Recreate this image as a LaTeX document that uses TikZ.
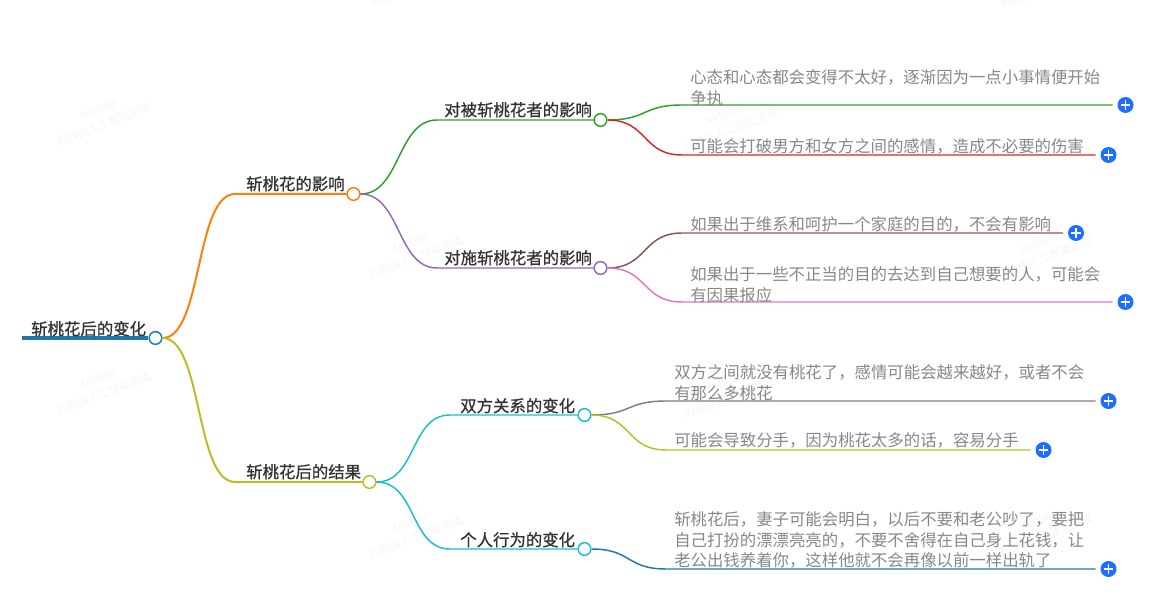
\documentclass[tikz,border=0pt]{standalone}
\usepackage{fontspec}
\setmainfont{Noto Sans CJK SC}
\newfontfamily\topicfont[FakeBold=0.8]{Noto Sans CJK SC}
\usepackage{tikz}
\usetikzlibrary{positioning}
\definecolor{cblue}{HTML}{1F77B4}
\definecolor{corange}{HTML}{FF7F0E}
\definecolor{cgreen}{HTML}{2CA02C}
\definecolor{cred}{HTML}{D62728}
\definecolor{cpurple}{HTML}{9467BD}
\definecolor{cbrown}{HTML}{8C564B}
\definecolor{cpink}{HTML}{E377C2}
\definecolor{cgray}{HTML}{7F7F7F}
\definecolor{colive}{HTML}{BCBD22}
\definecolor{ccyan}{HTML}{17BECF}
\definecolor{cplus}{HTML}{1E6FFF}
\tikzset{
  knot/.style={circle,draw=#1,fill=white,line width=1.1pt,minimum size=9.5pt,inner sep=0pt},
  plusbtn/.style={circle,fill=cplus,minimum size=12pt,inner sep=0pt,
    path picture={\draw[white,line width=1.1pt]
      ([xshift=-3.4pt]path picture bounding box.center) -- ([xshift=3.4pt]path picture bounding box.center)
      ([yshift=-3.4pt]path picture bounding box.center) -- ([yshift=3.4pt]path picture bounding box.center);}},
  topic/.style={anchor=base west,inner sep=0pt,text=black!80,font=\fontsize{12.3pt}{15pt}\topicfont},
  leaf/.style={anchor=south west,inner sep=0pt,align=left,text=black!47,font=\fontsize{12.3pt}{15.6pt}\selectfont},
  wire/.style={#1,line width=1.1pt,line cap=round},
  tail/.style={#1,line width=1.1pt,shorten >=3.4pt},
  stamp/.style={rotate=21,text=black!4,inner sep=0pt,align=center,font=\fontsize{8.3pt}{12pt}\selectfont}
}
\begin{document}
\begin{tikzpicture}[x=0.75pt,y=0.75pt,yscale=-1,xscale=1]
        \useasboundingbox (0,0) rectangle (1156,609);

        % Watermarks
        \node [stamp] (mark1) at (101,117) {4ebb8e\\内容由人工智能生成};
        \node [stamp] (mark2) at (101,386) {4ebb8e\\内容由人工智能生成};
        \node [stamp] (mark3) at (413,250) {4ebb8e\\内容由人工智能生成};
        \node [stamp] (mark4) at (413,530) {4ebb8e\\内容由人工智能生成};
        \node [stamp] (mark5) at (728,122) {4ebb8e\\内容由人工智能生成};
        \node [stamp] (mark6) at (728,390) {4ebb8e\\内容由人工智能生成};
        \node [stamp] (mark7) at (1042,250) {4ebb8e\\内容由人工智能生成};
        \node [stamp] (mark8) at (1042,528) {4ebb8e\\内容由人工智能生成};
        \node [stamp] (mark9) at (415,-22) {4ebb8e\\内容由人工智能生成};
        \node [stamp] (mark10) at (1044,-20) {4ebb8e\\内容由人工智能生成};

        % Knots
        \node [knot=cblue] (root) at (155.5,338) {};
        \node [knot=corange] (effect) at (353.5,194) {};
        \node [knot=colive] (result) at (369.5,482) {};
        \node [knot=cgreen] (victim) at (600.5,120) {};
        \node [knot=cpurple] (doer) at (600.5,268) {};
        \node [knot=ccyan] (couple) at (584.5,415) {};
        \node [knot=ccyan] (person) at (584.5,549) {};

        % Plus buttons
        \node [plusbtn] (plusa) at (1125.5,105) {};
        \node [plusbtn] (plusb) at (1108.5,155) {};
        \node [plusbtn] (plusc) at (1076,233) {};
        \node [plusbtn] (plusd) at (1125.5,302) {};
        \node [plusbtn] (pluse) at (1108.5,401) {};
        \node [plusbtn] (plusf) at (1043.5,450) {};
        \node [plusbtn] (plusg) at (1108.5,569) {};

        % Bends
        \coordinate (bendeffect) at (235,194);
        \coordinate (bendresult) at (235,482);
        \coordinate (bendvictim) at (437,120);
        \coordinate (benddoer) at (437,268);
        \coordinate (bendcouple) at (450,415);
        \coordinate (bendperson) at (450,549);
        \coordinate (benda) at (682,105);
        \coordinate (bendb) at (682,155);
        \coordinate (bendc) at (682,233);
        \coordinate (bendd) at (682,302);
        \coordinate (bende) at (666,401);
        \coordinate (bendf) at (666,450);
        \coordinate (bendg) at (666,569);
        \coordinate (rootstart) at (22,338);

        % Root line
        \draw [cblue,line width=3pt] (rootstart) -- (root.west);

        % First level
        \draw [wire=corange,line width=1.5pt] (root.east) .. controls +(40,0) and +(-40,0) .. (bendeffect) -- (effect.west);
        \draw [wire=colive,line width=1.5pt] (root.east) .. controls +(40,0) and +(-40,0) .. (bendresult) -- (result.west);

        % Second level
        \draw [wire=cgreen] (effect.east) .. controls +(40,0) and +(-40,0) .. (bendvictim) -- (victim.west);
        \draw [wire=cpurple] (effect.east) .. controls +(40,0) and +(-40,0) .. (benddoer) -- (doer.west);
        \draw [wire=ccyan] (result.east) .. controls +(40,0) and +(-40,0) .. (bendcouple) -- (couple.west);
        \draw [wire=ccyan] (result.east) .. controls +(40,0) and +(-40,0) .. (bendperson) -- (person.west);

        % Third level
        \draw [tail=cgreen] (victim.east) .. controls +(40,0) and +(-40,0) .. (benda) -- (plusa);
        \draw [tail=cred] (victim.east) .. controls +(40,0) and +(-40,0) .. (bendb) -- (plusb);
        \draw [tail=cbrown] (doer.east) .. controls +(40,0) and +(-40,0) .. (bendc) -- (plusc);
        \draw [tail=cpink] (doer.east) .. controls +(40,0) and +(-40,0) .. (bendd) -- (plusd);
        \draw [tail=cgray] (couple.east) .. controls +(40,0) and +(-40,0) .. (bende) -- (pluse);
        \draw [tail=colive] (couple.east) .. controls +(40,0) and +(-40,0) .. (bendf) -- (plusf);
        \draw [tail=cblue] (person.east) .. controls +(40,0) and +(-40,0) .. (bendg) -- (plusg);

        % Text Node
        \node [topic] (troot) at (31,335) {斩桃花后的变化};
        \node [topic] (teffect) at (246,190) {斩桃花的影响};
        \node [topic] (tresult) at (246,478) {斩桃花后的结果};
        \node [topic] (tvictim) at (444,116) {对被斩桃花者的影响};
        \node [topic] (tdoer) at (444,264) {对施斩桃花者的影响};
        \node [topic] (tcouple) at (460,412) {双方关系的变化};
        \node [topic] (tperson) at (460,546) {个人行为的变化};
        % Text Node
        \node [leaf] (ta) at (690,106) {心态和心态都会变得不太好，逐渐因为一点小事情便开始\\争执};
        \node [leaf] (tb) at (690,155) {可能会打破男方和女方之间的感情，造成不必要的伤害};
        \node [leaf] (tc) at (690,233) {如果出于维系和呵护一个家庭的目的，不会有影响};
        \node [leaf] (td) at (690,303) {如果出于一些不正当的目的去达到自己想要的人，可能会\\有因果报应};
        \node [leaf] (te) at (674,401) {双方之间就没有桃花了，感情可能会越来越好，或者不会\\有那么多桃花};
        \node [leaf] (tf) at (674,449) {可能会导致分手，因为桃花太多的话，容易分手};
        \node [leaf] (tg) at (674,569) {斩桃花后，妻子可能会明白，以后不要和老公吵了，要把\\自己打扮的漂漂亮亮的，不要不舍得在自己身上花钱，让\\老公出钱养着你，这样他就不会再像以前一样出轨了};
\end{tikzpicture}
\end{document}
